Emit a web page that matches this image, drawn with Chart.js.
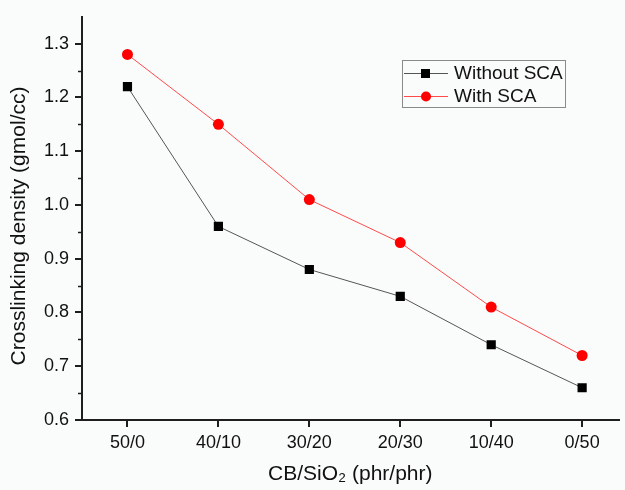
<!DOCTYPE html>
<html>
<head>
<meta charset="utf-8">
<script src="https://cdn.jsdelivr.net/npm/chart.js@4"></script>
<style>
  html, body { margin: 0; padding: 0; background: #fafbfb; }
  #wrap { width: 625px; height: 490px; }
</style>
</head>
<body>
<div id="wrap"><canvas id="chart" width="625" height="490"></canvas></div>
<script>
const ratios = ["50/0", "40/10", "30/20", "20/30", "10/40", "0/50"];
const withoutSCA = [1.22, 0.96, 0.88, 0.83, 0.74, 0.66];
const withSCA = [1.28, 1.15, 1.01, 0.93, 0.81, 0.72];
const yTitle = "Crosslinking density (gmol/cc)";

const FONT = "Liberation Sans, Arial, sans-serif";
const AXIS = "#1e1e1e";

const toPoints = (vals) => vals.map((v, i) => ({ x: i, y: v }));

// y title, minor ticks on the y axis, legend box inside the plot
const extras = {
  id: "extras",
  afterDraw(chart) {
    const ctx = chart.ctx;
    const y = chart.scales.y;
    const x = chart.scales.x;
    ctx.save();

    ctx.save();
    ctx.translate(19, 226);
    ctx.rotate(-Math.PI / 2);
    ctx.font = "21px " + FONT;
    ctx.fillStyle = "#111";
    ctx.textAlign = "center";
    ctx.textBaseline = "middle";
    ctx.fillText(yTitle, 0, 0);
    ctx.restore();

    ctx.strokeStyle = AXIS;
    ctx.lineWidth = 1.5;
    for (let v = 0.65; v < 1.35; v += 0.1) {
      const py = Math.round(y.getPixelForValue(v)) + 0.5;
      ctx.beginPath();
      ctx.moveTo(x.left - 4, py);
      ctx.lineTo(x.left, py);
      ctx.stroke();
    }

    // legend
    const bx = 402, by = 60, bw = 163, bh = 47;
    ctx.strokeStyle = "#8a8a8a";
    ctx.lineWidth = 1;
    ctx.strokeRect(bx + 0.5, by + 0.5, bw, bh);
    ctx.font = "19px " + FONT;
    ctx.textBaseline = "middle";
    chart.data.datasets.forEach((ds, i) => {
      const ry = by + 13 + i * 23;
      ctx.strokeStyle = ds.borderColor;
      ctx.lineWidth = 1;
      ctx.beginPath();
      ctx.moveTo(bx + 2, ry + 0.5);
      ctx.lineTo(bx + 46, ry + 0.5);
      ctx.stroke();
      ctx.fillStyle = ds.pointBackgroundColor;
      ctx.beginPath();
      if (ds.pointStyle === "rect") {
        ctx.rect(bx + 19, ry - 4, 9, 9);
      } else {
        ctx.arc(bx + 24, ry + 0.5, 5, 0, Math.PI * 2);
      }
      ctx.fill();
      ctx.fillStyle = "#111";
      ctx.fillText(ds.label, bx + 52, ry + 1);
    });
    ctx.restore();
  }
};

new Chart(document.getElementById("chart"), {
  type: "line",
  data: {
    datasets: [
      {
        label: "Without SCA",
        data: toPoints(withoutSCA),
        borderColor: "#555555",
        borderWidth: 1,
        pointStyle: "rect",
        pointRadius: 6.5,
        pointBackgroundColor: "#000000",
        pointBorderWidth: 0
      },
      {
        label: "With SCA",
        data: toPoints(withSCA),
        borderColor: "#ff4a4a",
        borderWidth: 1,
        pointStyle: "circle",
        pointRadius: 5.5,
        pointBackgroundColor: "#ff0000",
        pointBorderWidth: 0
      }
    ]
  },
  options: {
    responsive: false,
    animation: false,
    layout: { padding: { top: 12, right: 5, left: 0, bottom: 0 } },
    plugins: {
      legend: { display: false },
      tooltip: { enabled: false }
    },
    scales: {
      x: {
        type: "linear",
        min: -0.5,
        max: 5.4,
        afterFit: (s) => { s.height = 70; },
        border: { color: AXIS, width: 2 },
        grid: { drawOnChartArea: false, color: AXIS, lineWidth: 2, tickLength: 7 },
        ticks: {
          stepSize: 1,
          includeBounds: false,
          padding: 5,
          color: "#111",
          font: { family: FONT, size: 18 },
          callback: (v) => ratios[v] ?? ""
        },
        title: {
          display: true,
          text: "CB/SiO₂ (phr/phr)",
          color: "#111",
          font: { family: FONT, size: 21 },
          padding: { top: 0, bottom: 3 }
        }
      },
      y: {
        min: 0.6,
        max: 1.35,
        afterFit: (s) => { s.width = 82; },
        border: { color: AXIS, width: 2 },
        grid: { drawOnChartArea: false, color: AXIS, lineWidth: 2, tickLength: 7 },
        ticks: {
          stepSize: 0.1,
          includeBounds: false,
          padding: 6,
          color: "#111",
          font: { family: FONT, size: 18 },
          callback: (v) => v.toFixed(1)
        }
      }
    }
  },
  plugins: [extras]
});
</script>
</body>
</html>
